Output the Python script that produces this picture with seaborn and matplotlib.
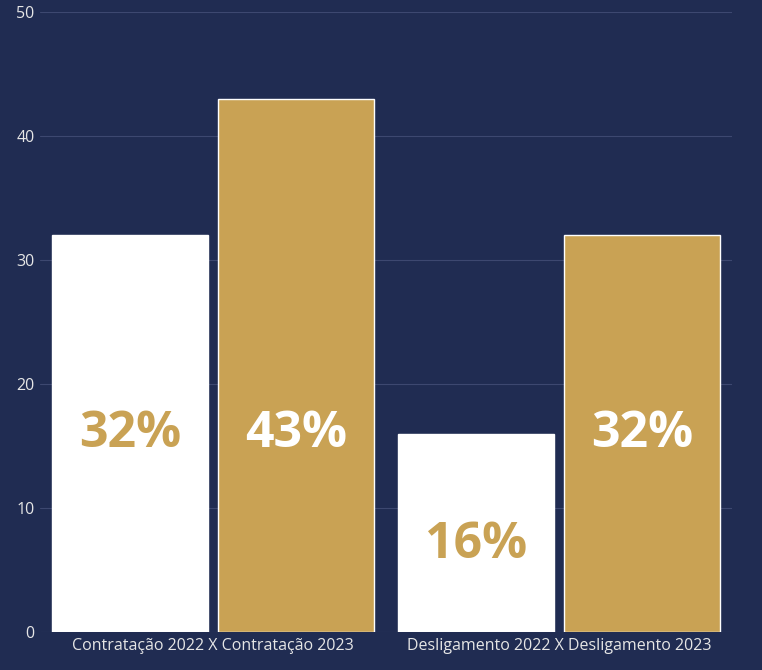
import matplotlib
matplotlib.use("Agg")
import matplotlib.pyplot as plt
import seaborn as sns
import pandas as pd

categories = ["Contratação 2022 X Contratação 2023", "Desligamento 2022 X Desligamento 2023"]
series = ["2022", "2023"]
values_2022 = [32, 16]
values_2023 = [43, 32]
labels_2022 = ["32%", "16%"]
labels_2023 = ["43%", "32%"]

bg = "#202c52"
white = "#ffffff"
gold = "#c9a254"

df = pd.DataFrame({
    "cat": categories * 2,
    "serie": [series[0]] * 2 + [series[1]] * 2,
    "val": values_2022 + values_2023,
})

sns.set_theme(style="dark")
plt.rcParams['font.family'] = ['Open Sans', 'DejaVu Sans']
fig = plt.figure(figsize=(7.62, 6.7), dpi=100, facecolor=bg)
ax = fig.add_axes([40/762, 38/670, 692/762, 620/670])
ax.set_facecolor(bg)
sns.barplot(data=df, x="cat", y="val", hue="serie", palette=[white, gold],
            width=0.96, gap=0.06, ax=ax, legend=False, saturation=1)
ax.set_ylim(0, 50)
ax.set_xlim(-0.5, 1.5)
ax.set_yticks([0, 10, 20, 30, 40, 50])
ax.yaxis.grid(True, color="#3d4870", linewidth=0.8)
ax.set_axisbelow(True)
for s in ax.spines.values():
    s.set_visible(False)
ax.tick_params(colors="#e6e6e6", labelsize=11.5, length=0, pad=4)
ax.set_xlabel("")
ax.set_ylabel("")

labs = labels_2022 + labels_2023
vals = values_2022 + values_2023
for i, p in enumerate(ax.patches[:4]):
    x = p.get_x() + p.get_width() / 2
    v = vals[i]
    y = min(v / 2, 16) - (1 if v < 20 else 0)
    col = gold if i < 2 else white
    ax.text(x, y, labs[i], ha="center", va="center", color=col,
            fontsize=36, fontweight="bold")

fig.savefig("out.png", dpi=100, facecolor=bg)
